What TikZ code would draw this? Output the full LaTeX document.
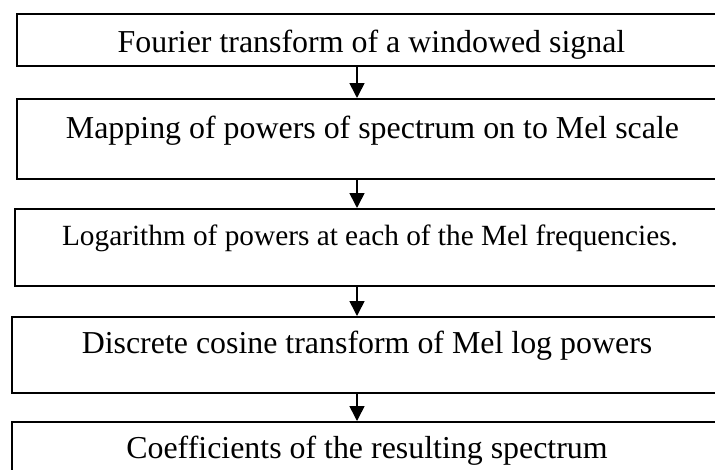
\documentclass[tikz,border=0pt]{standalone}
\usepackage{fontspec}
\setmainfont{Liberation Serif}
\usetikzlibrary{arrows.meta}
\begin{document}
\begin{tikzpicture}[x=1pt,y=-1pt,
  box/.style={draw, line width=1.6pt, rectangle, inner sep=0pt, anchor=north west, minimum width=#1},
  lbl/.style={anchor=base, inner sep=0pt, font=\fontsize{31.9}{38}\selectfont},
  lblsmall/.style={anchor=base, inner sep=0pt, font=\fontsize{29.3}{35}\selectfont},
  arr/.style={line width=1.6pt, -{Triangle[length=15pt,width=15pt]}}]
\useasboundingbox (0,0) rectangle (715,469);
\clip (0,0) rectangle (715,469);
\node[box=714pt, minimum height=52pt] (b1) at (16,13) {};
\node[box=714pt, minimum height=80pt] (b2) at (16,98) {};
\node[box=716pt, minimum height=77pt] (b3) at (14,208) {};
\node[box=719pt, minimum height=76pt] (b4) at (11,316) {};
\node[box=719pt, minimum height=90pt] (b5) at (11,421) {};
\node[lbl] (t1) at (371.5,52) {Fourier transform of a windowed signal};
\node[lbl] (t2) at (372.5,138) {Mapping of powers of spectrum on to Mel scale};
\node[lblsmall] (t3) at (370,245) {Logarithm of powers at each of the Mel frequencies.};
\node[lbl] (t4) at (367,353) {Discrete cosine transform of Mel log powers};
\node[lbl] (t5) at (367,458) {Coefficients of the resulting spectrum};
\coordinate (ax) at (357,0);
\draw[arr] (ax |- b1.south) -- (ax |- b2.north);
\draw[arr] (ax |- b2.south) -- (ax |- b3.north);
\draw[arr] (ax |- b3.south) -- (ax |- b4.north);
\draw[arr] (ax |- b4.south) -- (ax |- b5.north);
\end{tikzpicture}
\end{document}
